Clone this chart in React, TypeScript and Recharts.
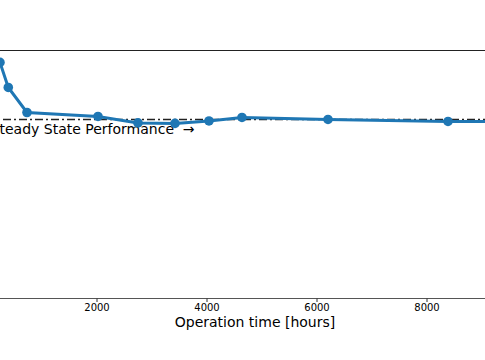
import React from "react";
import { LineChart, Line, XAxis, YAxis, ReferenceLine } from "recharts";

const hours = [236, 387, 727, 2018, 2745, 3418, 4036, 4636, 6200, 8382, 9300];
const performance = [95.2, 85.1, 75.0, 73.4, 70.8, 70.6, 71.6, 73.0, 72.2, 71.4, 71.3];
const steadyState = 72.2;
const xTicks = [2000, 4000, 6000, 8000];
const steadyLabel = "Steady State Performance";
const steadyArrow = "\u2192";
const xLabel = "Operation time [hours]";

const data = hours.map((h, i) => ({ h, p: performance[i] }));

const FONT = "DejaVu Sans, sans-serif";

export default function App() {
  return (
    <div style={{ position: "absolute", left: 0, top: 0, width: 485, height: 360, overflow: "hidden", background: "#fff" }}>
      <div style={{ marginLeft: -13 }}>
        <LineChart width={506} height={360} data={data} margin={{ top: 50.5, right: 0, bottom: 11.5, left: 0 }}>
          <XAxis
            dataKey="h"
            type="number"
            domain={[0, 9200]}
            ticks={xTicks}
            allowDataOverflow
            stroke="#555"
            tickSize={3.5}
            tickMargin={1.5}
            tick={{ fontSize: 10, fill: "#000", fontFamily: FONT }}
            tickLine={{ stroke: "#333" }}
            height={50}
            label={(props: any) => {
              const vb = props.viewBox;
              return (
                <text x={vb.x + 268} y={vb.y + 28.5} textAnchor="middle" fontSize={14} fontFamily={FONT} fill="#000">
                  {xLabel}
                </text>
              );
            }}
          />
          <YAxis type="number" domain={[0, 100]} hide allowDataOverflow />
          <ReferenceLine y={100} stroke="#222" strokeWidth={1} ifOverflow="visible" />
          <ReferenceLine
            y={steadyState}
            stroke="#222"
            strokeWidth={1.5}
            strokeDasharray="8 3 2 3"
            label={(props: any) => {
              const vb = props.viewBox;
              return (
                <g>
                  <text x={vb.x + 187} y={vb.y + 14.5} textAnchor="end" fontSize={14} fontFamily={FONT} fill="#000">
                    {steadyLabel}
                  </text>
                  <text x={vb.x + 201.5} y={vb.y + 14.5} textAnchor="middle" fontSize={14} fontFamily={FONT} fill="#000">
                    {steadyArrow}
                  </text>
                </g>
              );
            }}
          />
          <Line
            dataKey="p"
            stroke="#1f77b4"
            strokeWidth={3}
            dot={{ r: 4.8, fill: "#1f77b4", stroke: "#1f77b4", strokeWidth: 0 }}
            isAnimationActive={false}
          />
        </LineChart>
      </div>
    </div>
  );
}
